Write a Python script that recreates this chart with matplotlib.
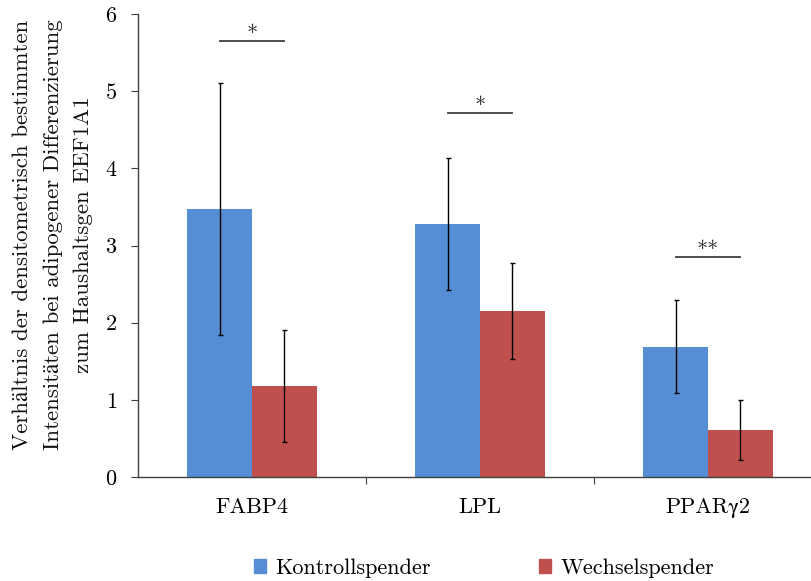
import matplotlib
matplotlib.use("Agg")
import matplotlib.pyplot as plt
from matplotlib.patches import Patch
import numpy as np

plt.rcParams['font.family'] = ['cmr10', 'STIXGeneral', 'DejaVu Serif']
plt.rcParams['mathtext.fontset'] = 'cm'
plt.rcParams['axes.formatter.use_mathtext'] = True

categories = ["FABP4", "LPL", "PPARγ2"]
series_names = ["Kontrollspender", "Wechselspender"]
kontroll = [3.47, 3.28, 1.69]
kontroll_err = [1.63, 0.86, 0.60]
wechsel = [1.18, 2.15, 0.61]
wechsel_err = [0.72, 0.62, 0.39]
sig_labels = ["*", "*", "**"]
sig_heights = [5.65, 4.72, 2.85]
yticks = [0, 1, 2, 3, 4, 5, 6]

blue = "#558ED5"
red = "#C0504D"
axis_col = "#404040"

fig = plt.figure(figsize=(8.12, 5.81), dpi=100)
ax = fig.add_axes([138/812, 1-477/581, 684/812, 463/581])

x = np.arange(len(categories))
w = 0.285
ekw = dict(ecolor="black", elinewidth=1.0, capsize=1.8, capthick=1.0)
ax.bar(x - w/2, kontroll, w, color=blue, yerr=kontroll_err, error_kw=ekw, zorder=2)
ax.bar(x + w/2, wechsel, w, color=red, yerr=wechsel_err, error_kw=ekw, zorder=2)

for xi, lab, h in zip(x, sig_labels, sig_heights):
    ax.plot([xi - w/2, xi + w/2], [h, h], color=axis_col, lw=1.3, zorder=3, clip_on=False)
    ax.text(xi, h - 0.04, lab, ha="center", va="bottom", fontsize=16, color="#222222")

ax.set_xlim(-0.5, 2.5)
ax.set_ylim(0, 6)
ax.set_yticks(yticks)
ax.set_xticks([0.5, 1.5])
ax.set_xticklabels([])
ax.set_xticks(x, minor=True)
ax.set_xticklabels(categories, minor=True, fontsize=16)
ax.tick_params(axis="x", which="minor", length=0, pad=15)
ax.tick_params(axis="x", which="major", length=5, direction="out", color=axis_col)
ax.tick_params(axis="y", length=5, direction="out", color=axis_col, labelsize=16, pad=10)
for s in ["top", "right"]:
    ax.spines[s].set_visible(False)
for s in ["left", "bottom"]:
    ax.spines[s].set_color(axis_col)
    ax.spines[s].set_linewidth(1.0)

fig.text(0.065, 0.596,
         "Verhältnis der densitometrisch bestimmten\nIntensitäten bei adipogener Differenzierung\nzum Haushaltsgen EEF1A1",
         rotation=90, ha="center", va="center", multialignment="center",
         fontsize=16.5, linespacing=1.68, color="#111111")

handles = [Patch(color=blue), Patch(color=red)]
fig.legend(handles, series_names, loc="center", bbox_to_anchor=(0.596, 0.022),
           ncol=2, frameon=False, fontsize=16, handlelength=0.55, handleheight=0.55,
           handletextpad=0.4, columnspacing=4.9)

fig.savefig("out.png", dpi=100)
